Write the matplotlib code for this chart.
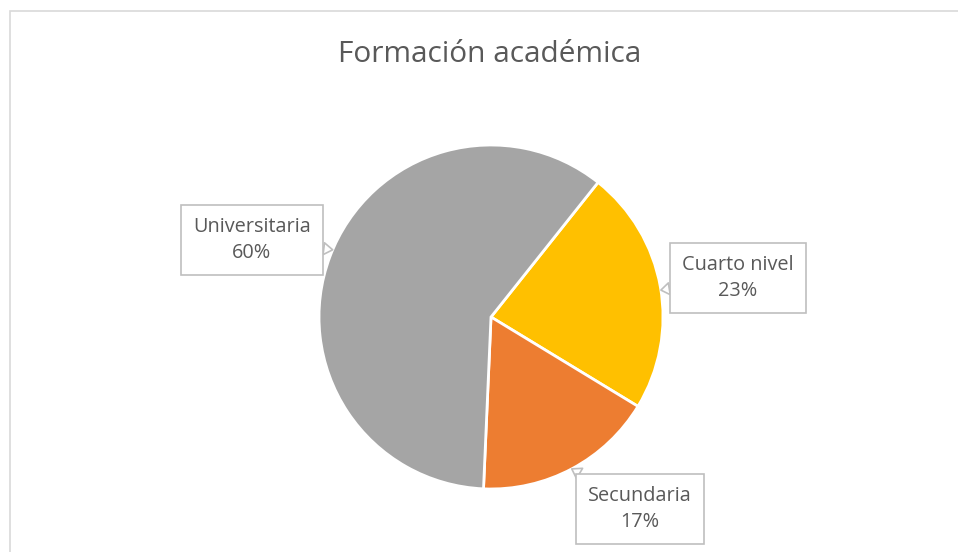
import numpy as np
import matplotlib.pyplot as plt
from matplotlib.patches import Rectangle

plt.rcParams['font.family'] = ['Open Sans', 'DejaVu Sans']

# data
labels = ["Cuarto nivel", "Secundaria", "Universitaria"]
values = [23, 17, 60]
colors = ["#FFC000", "#ED7D31", "#A5A5A5"]

# label box centres (pixels, y up) and where the callout touches the pie (deg)
label_pos = [(738, 274), (640, 43), (252, 312)]
tip_angles = [9, -62, 157]

W, H = 958, 552
fig = plt.figure(figsize=(W / 100, H / 100), dpi=100)
ax = fig.add_axes([0, 0, 1, 1])

cx, cy, r = 491, H - 317, 172
ax.pie(values, colors=colors, startangle=51.5, counterclock=False,
       center=(cx, cy), radius=r, frame=True,
       wedgeprops=dict(edgecolor="white", linewidth=2))
ax.set_xlim(0, W)
ax.set_ylim(0, H)
ax.set_aspect("equal")
ax.axis("off")

for lab, v, (lx, ly), a in zip(labels, values, label_pos, tip_angles):
    tip = (cx + r * np.cos(np.radians(a)), cy + r * np.sin(np.radians(a)))
    ax.annotate(f"{lab}\n{v}%", xy=tip, xytext=(lx, ly),
                ha="center", va="center", fontsize=14.3, color="#595959",
                linespacing=1.35,
                bbox=dict(boxstyle="square,pad=0.62", fc="white", ec="#BFBFBF", lw=1.2),
                arrowprops=dict(arrowstyle="wedge,tail_width=0.6,shrink_factor=0.5",
                                fc="white", ec="#BFBFBF", lw=1.2, shrinkA=0, shrinkB=0))

fig.text(490 / W, 1 - 54 / H, "Formación académica", ha="center", va="center",
         fontsize=21.5, color="#595959")

# chart area border
fig.add_artist(Rectangle((9.5 / W, -0.1), 1.2, 1 - 10.5 / H + 0.1,
                         transform=fig.transFigure, fill=False,
                         ec="#D9D9D9", lw=1.2))

fig.savefig("out.png", dpi=100)
